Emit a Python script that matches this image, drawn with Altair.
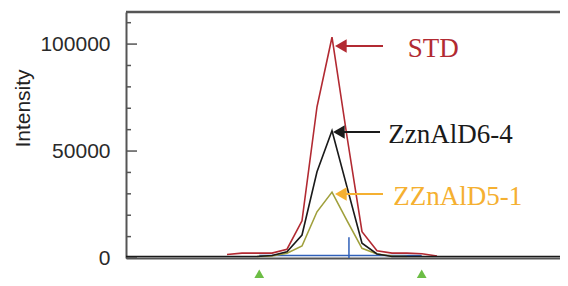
import altair as alt
import pandas as pd

# ---- data (x in sample index units, y in intensity) ----
std_x = [7, 8, 9, 10, 11, 12, 13, 14, 15, 16, 17, 18, 19, 20, 21]
std_y = [1600, 2300, 2300, 2300, 4100, 17400, 70700, 103200, 56800, 12300, 3400, 2300, 2300, 2000, 900]

zzn64_x = list(range(0, 31))
zzn64_y = [700] * 10 + [1200, 2900, 10750, 40300, 59500, 33200, 6900, 1900] + [700] * 13

zzn51_x = [9, 10, 11, 12, 13, 14, 15, 16, 17, 18, 19]
zzn51_y = [700, 900, 2200, 5600, 21600, 30800, 17500, 4500, 1900, 900, 700]

# integration markers
marker_x = [9.15, 19.98]
baseline_y = 1200
apex_x = 15.13
apex_h = 9700

# y-axis ticks
major_ticks = [0, 50000, 100000]
minor_ticks = [10000, 20000, 30000, 40000, 60000, 70000, 80000, 90000, 110000]

# annotations
ann_labels = ["STD", "ZznAlD6-4", "ZZnAlD5-1"]
ann_colors = ["#B22A32", "#1A1A1A", "#F5B031"]
ann_arrow_y = [99100, 58900, 29900]
ann_tip_x = [14.59, 14.46, 14.59]
ann_tail_x = [17.4, 17.2, 17.4]
ann_text_x = [19.05, 17.75, 18.09]
ann_text_y = [94100, 53800, 24800]

W, H = 434, 246
X0 = 14 - 206 / 15
XDOM = [X0, X0 + W / 15]
YDOM = [0, 115000]

SANS = "Liberation Sans, Arial, sans-serif"

series = pd.concat([
    pd.DataFrame({"x": std_x, "y": std_y, "s": "STD"}),
    pd.DataFrame({"x": zzn51_x, "y": zzn51_y, "s": "ZZnAlD5-1"}),
    pd.DataFrame({"x": zzn64_x, "y": zzn64_y, "s": "ZznAlD6-4"}),
])

xs = alt.Scale(domain=XDOM, nice=False, zero=False)
ys = alt.Scale(domain=YDOM, nice=False, zero=False)

base_x_axis = alt.Axis(labels=False, ticks=False, title=None, grid=False,
                       domainColor="#555555", domainWidth=2)
y_axis = alt.Axis(values=major_ticks, format="d", ticks=False, grid=False, domainColor="#555555",
                  domainWidth=2, labelFont=SANS,
                  labelFontSize=21, labelColor="#2a2a2a", labelPadding=16,
                  title="Intensity", titleFont=SANS,
                  titleFontSize=21, titleFontWeight="normal", titleColor="#222222",
                  titleAngle=270, titleX=-97, titleY=96, titleAlign="center",
                  titleBaseline="alphabetic", labelFlush=False)

colors = alt.Scale(domain=["STD", "ZZnAlD5-1", "ZznAlD6-4"],
                   range=["#B22A32", "#A0A03C", "#1A1A1A"])

lines = alt.Chart(series).mark_line(strokeWidth=1.6, clip=True).encode(
    x=alt.X("x:Q", scale=xs, axis=base_x_axis),
    y=alt.Y("y:Q", scale=ys, axis=y_axis),
    color=alt.Color("s:N", scale=colors, legend=None, sort=["STD", "ZZnAlD5-1", "ZznAlD6-4"]),
    order=alt.Order("x:Q"),
)

blue_base = alt.Chart(pd.DataFrame({"x": [marker_x[0]], "x2": [marker_x[1]], "y": [baseline_y]})).mark_rule(
    color="#3060B8", strokeWidth=1.5).encode(
    x=alt.X("x:Q", scale=xs), x2="x2:Q", y=alt.Y("y:Q", scale=ys))

blue_apex = alt.Chart(pd.DataFrame({"x": [apex_x], "y": [0], "y2": [apex_h]})).mark_rule(
    color="#3060B8", strokeWidth=1.5).encode(
    x=alt.X("x:Q", scale=xs), y=alt.Y("y:Q", scale=ys), y2="y2:Q")

tri = alt.Chart(pd.DataFrame({"x": marker_x})).mark_point(
    shape="triangle-up", filled=True, color="#6CBD45", size=220, opacity=1).encode(
    x=alt.X("x:Q", scale=xs), y=alt.value(H + 18))

major = alt.Chart(pd.DataFrame({"y": major_ticks})).mark_rule(color="#555555", strokeWidth=1.5).encode(
    y=alt.Y("y:Q", scale=ys), x=alt.value(0), x2=alt.value(11))
minor = alt.Chart(pd.DataFrame({"y": minor_ticks})).mark_rule(color="#555555", strokeWidth=1.5).encode(
    y=alt.Y("y:Q", scale=ys), x=alt.value(0), x2=alt.value(5))

top_line = alt.Chart(pd.DataFrame({"a": [0]})).mark_rule(color="#555555", strokeWidth=2.5).encode(
    y=alt.value(0), x=alt.value(0), x2=alt.value(W))

ann = pd.DataFrame({"label": ann_labels, "color": ann_colors, "ay": ann_arrow_y,
                    "tip": ann_tip_x, "tail": ann_tail_x, "tx": ann_text_x, "ty": ann_text_y})

arrow_shaft = alt.Chart(ann).mark_rule(strokeWidth=2).encode(
    x=alt.X("tip:Q", scale=xs), x2="tail:Q", y=alt.Y("ay:Q", scale=ys),
    color=alt.Color("color:N", scale=None))
arrow_head = alt.Chart(ann).mark_point(shape="triangle-left", filled=True, size=180, opacity=1).encode(
    x=alt.X("tip:Q", scale=xs), y=alt.Y("ay:Q", scale=ys),
    color=alt.Color("color:N", scale=None))
ann_text = alt.Chart(ann).mark_text(align="left", baseline="alphabetic", font="Liberation Serif",
                                    fontSize=27).encode(
    x=alt.X("tx:Q", scale=xs), y=alt.Y("ty:Q", scale=ys), text="label:N",
    color=alt.Color("color:N", scale=None))

chart = alt.layer(
    top_line, major, minor, blue_base, lines, blue_apex, tri, arrow_shaft, arrow_head, ann_text
).properties(
    width=W, height=H,
    autosize=alt.AutoSizeParams(type="none"),
    padding={"left": 118, "top": 4, "right": 0, "bottom": 20},
).configure_view(stroke=None).configure(background="white")

chart.save("out.html", embed_options={"renderer": "svg", "actions": False})
